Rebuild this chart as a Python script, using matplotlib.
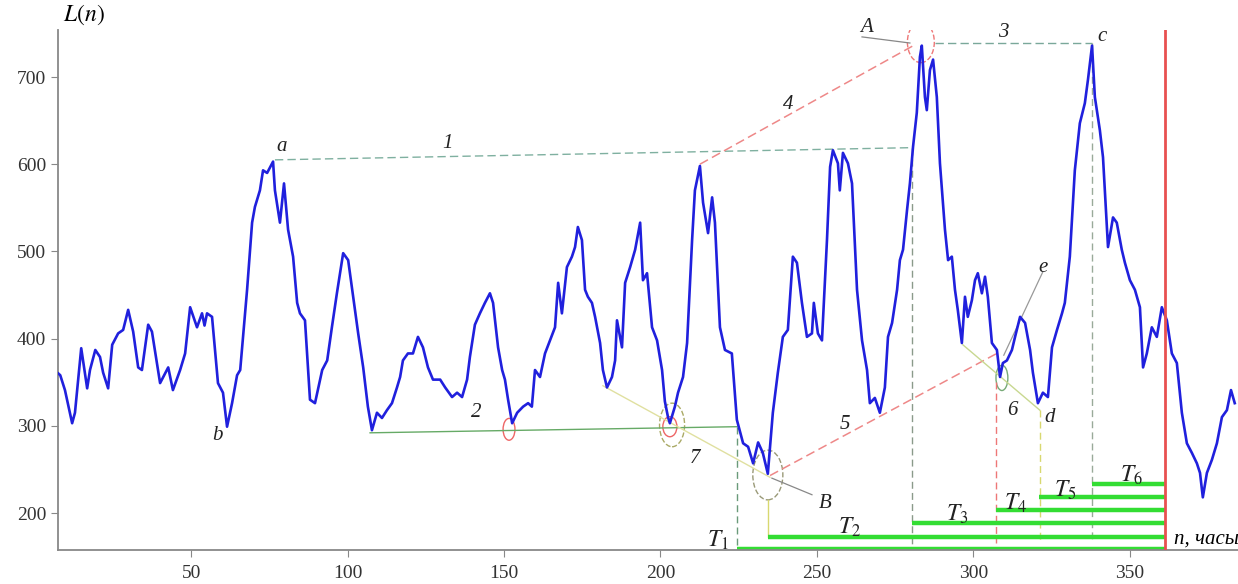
import numpy as np
import matplotlib.pyplot as plt
from matplotlib.patches import Ellipse

plt.rcParams['font.family'] = ['Liberation Serif', 'DejaVu Serif']
plt.rcParams['mathtext.fontset'] = 'stix'

# ряд L(n) (n в часах)
n_vals = [7.6, 8.2, 9.7, 12.0, 12.9, 14.9, 16.8, 17.7, 19.4, 20.9, 21.9, 23.5, 24.8, 26.7,
          28.3, 29.9, 31.5, 33.1, 34.3, 36.3, 37.5, 40.1, 42.7, 44.2, 46.5, 48.1, 49.7,
          51.9, 53.5, 54.3, 55.1, 56.7, 58.6, 60.2, 61.5, 63.1, 64.7, 65.7, 67.9, 69.5,
          70.4, 72.0, 73.0, 74.3, 76.2, 76.8, 78.4, 79.7, 81.0, 82.6, 83.9, 84.8, 86.4,
          88.0, 89.6, 91.9, 93.5, 95.0, 96.6, 98.6, 100.2, 101.8, 103.4, 105.0, 106.5,
          107.8, 109.4, 111.0, 112.6, 114.2, 115.8, 116.8, 117.7, 119.3, 120.9, 122.5,
          124.1, 125.7, 127.3, 129.6, 131.2, 133.4, 135.0, 136.6, 138.2, 139.1, 140.7,
          142.3, 143.9, 145.5, 146.5, 148.1, 149.4, 150.3, 151.3, 152.6, 154.2, 156.1,
          157.7, 158.9, 159.9, 161.5, 163.1, 164.7, 166.3, 167.3, 168.5, 170.1, 171.7,
          172.7, 173.6, 174.9, 175.9, 176.8, 178.1, 179.1, 180.7, 181.6, 182.9, 184.5,
          185.5, 186.1, 187.7, 188.7, 190.3, 191.9, 193.5, 194.4, 195.7, 197.3, 198.9,
          200.5, 201.4, 202.4, 203.0, 204.6, 205.6, 207.2, 208.5, 210.1, 211.0, 212.6,
          213.6, 215.2, 216.5, 217.4, 219.0, 220.6, 222.8, 224.4, 226.4, 228.0, 229.6,
          231.2, 232.7, 234.3, 235.9, 237.5, 239.1, 240.7, 242.3, 243.6, 245.2, 246.8,
          248.4, 249.0, 250.3, 251.6, 253.2, 254.2, 255.1, 256.7, 257.3, 258.3, 259.9,
          261.2, 262.8, 264.4, 266.0, 266.9, 268.5, 270.1, 271.7, 272.7, 274.0, 275.6,
          276.5, 277.5, 278.8, 279.7, 280.7, 281.9, 282.9, 283.5, 284.5, 285.1, 286.1,
          287.1, 288.3, 289.3, 290.9, 291.9, 293.1, 294.1, 295.0, 296.3, 297.3, 298.2,
          299.5, 300.5, 301.4, 302.7, 303.7, 304.6, 305.9, 307.5, 308.5, 309.4, 310.7,
          312.3, 313.3, 314.9, 316.5, 318.1, 319.0, 320.6, 322.2, 323.8, 325.1, 326.7,
          328.3, 329.2, 330.8, 332.4, 334.0, 335.6, 336.6, 337.9, 338.8, 340.4, 341.4,
          342.7, 343.0, 344.6, 345.8, 347.4, 348.4, 350.0, 351.6, 353.2, 354.2, 355.4,
          357.0, 358.6, 360.2, 361.8, 363.4, 365.0, 366.6, 368.2, 369.8, 371.4, 372.4,
          373.3, 374.6, 376.2, 377.8, 379.4, 381.0, 382.3, 383.5]
L_vals = [360, 358, 341, 303, 315, 389, 343, 364, 387, 379, 361, 343, 393, 406,
          410, 433, 408, 367, 364, 416, 408, 349, 367, 341, 364, 383, 436,
          413, 429, 415, 429, 425, 349, 338, 299, 326, 358, 364, 456, 533,
          551, 570, 593, 590, 603, 570, 533, 578, 525, 494, 441, 429, 421,
          330, 326, 364, 375, 413, 452, 498, 490, 448, 406, 367, 322,
          295, 315, 309, 318, 326, 344, 356, 375, 383, 383, 402,
          390, 367, 353, 353, 344, 333, 338, 333, 353, 379, 416,
          429, 441, 452, 441, 390, 364, 353, 330, 303, 315, 322,
          326, 322, 364, 356, 383, 398, 413, 464, 429, 482, 494,
          505, 528, 513, 456, 448, 441, 425, 395, 364, 344, 356,
          375, 421, 390, 464, 482, 502, 533, 467, 475, 413, 398,
          364, 328, 310, 303, 322, 338, 356, 395, 513, 570, 598,
          556, 521, 562, 533, 413, 387, 383, 307, 280, 276, 257,
          281, 269, 245, 315, 361, 402, 410, 494, 487, 441, 402,
          406, 441, 406, 398, 513, 597, 616, 601, 570, 613, 601,
          578, 456, 398, 364, 326, 332, 315, 344, 402, 418, 456,
          490, 502, 548, 578, 620, 659, 723, 736, 677, 662, 708,
          720, 677, 601, 525, 490, 494, 456, 433, 395, 448, 425,
          444, 467, 475, 452, 471, 448, 395, 387, 356, 372, 375,
          387, 402, 425, 418, 387, 361, 326, 338, 333, 390, 410,
          429, 441, 494, 593, 647, 670, 697, 736, 677, 639, 608,
          525, 505, 539, 533, 502, 487, 467, 456, 436, 367, 383,
          413, 402, 436, 421, 383, 372, 315, 280, 269, 257, 246,
          218, 246, 261, 280, 310, 318, 341, 326]

# интервалы T1..T6 (начало, уровень), конец - красная линия
n_now = 361.3
T_start = [224.4, 234.4, 280.5, 307.2, 321.1, 337.9]
T_level = [159, 172.5, 188.5, 203.5, 218, 233]

fig = plt.figure(figsize=(12.38, 5.84), dpi=100)
ax = fig.add_axes([0.0469, 0.0582, 0.953, 0.8904])
ax.set_xlim(7.5, 384.5)
ax.set_ylim(157.6, 753.9)

ax.plot(n_vals, L_vals, color='#2020dd', lw=1.9, zorder=3)

# вспомогательные линии
ax.plot([76.8, 280.3], [605, 619], color='#7fb0a0', lw=1, ls=(0, (6, 3)))
ax.plot([287.7, 337.9], [739, 739], color='#7aa89a', lw=1, ls=(0, (6, 3)))
ax.plot([264.4, 279.7], [746, 739], color='#888888', lw=0.9)
ax.plot([212.6, 281.3], [600, 737], color='#ee8888', lw=1.1, ls=(0, (6, 3)))
ax.plot([235.0, 308.5], [243, 385], color='#ee8888', lw=1.1, ls=(0, (6, 3)))
ax.plot([107.2, 224.4], [292, 299], color='#66aa66', lw=1)
ax.plot([181.6, 235.0], [346, 241], color='#e0e0a0', lw=1)
ax.plot([235.6, 248.4], [240, 221], color='#888888', lw=0.9)
ax.plot([296.6, 321.2], [393, 318], color='#c8d890', lw=1)
ax.plot([322.1, 309.7], [476, 381], color='#999999', lw=0.9)

# вертикали
ax.plot([224.4, 224.4], [299, 157.6], color='#6a9a7a', lw=1, ls=(0, (5, 3)))
ax.plot([234.5, 234.5], [215, 172.5], color='#d8d870', lw=1)
ax.plot([280.3, 280.3], [619, 157.6], color='#8a9a8a', lw=1, ls=(0, (5, 3)))
ax.plot([307.3, 307.3], [350, 165.6], color='#ee7777', lw=1, ls=(0, (5, 3)))
ax.plot([321.2, 321.2], [318, 165.6], color='#d8d870', lw=1, ls=(0, (5, 3)))
ax.plot([337.9, 337.9], [739, 165.6], color='#99aa99', lw=1, ls=(0, (5, 3)))
ax.plot([n_now, n_now], [753.9, 157.6], color='#e85050', lw=2, zorder=4)

for s, lev in zip(T_start, T_level):
    ax.plot([s, n_now], [lev, lev], color='#33dd33', lw=3.2, solid_capstyle='butt', zorder=2)

# эллипсы
ax.add_patch(Ellipse((283.2, 740), 8.6, 47, fill=False, ec='#ee7777', lw=1, ls='--'))
ax.add_patch(Ellipse((151.6, 296), 3.8, 25, fill=False, ec='#ee6666', lw=1))
ax.add_patch(Ellipse((203.0, 299), 4.5, 23, fill=False, ec='#ee6666', lw=1))
ax.add_patch(Ellipse((203.7, 301), 8.0, 50, fill=False, ec='#aaaa66', lw=1, ls='--'))
ax.add_patch(Ellipse((234.3, 243.6), 9.6, 57, fill=False, ec='#999977', lw=1, ls='--'))
ax.add_patch(Ellipse((309.1, 355), 3.8, 29, fill=False, ec='#77aa77', lw=1))

# подписи
lab = dict(fontsize=15, style='italic', color='#222222', ha='center', va='center')
for x, y, t in [(78.8, 620, 'a'), (58.3, 289, 'b'), (341.0, 746, 'c'), (324.4, 309, 'd'),
                (322.2, 481, 'e'), (265.7, 757, 'A'), (252.6, 211, 'B'),
                (131.8, 624, '1'), (141.0, 315, '2'), (309.4, 751, '3'), (240.7, 668, '4'),
                (258.9, 301, '5'), (312.6, 318, '6'), (211.0, 263, '7')]:
    ax.text(x, y, t, clip_on=False, **lab)

T_lab_x = [218.4, 260.5, 294.7, 313.3, 329.2, 350.6]
T_lab_y = [169, 184, 198, 211, 226, 243]
for i in range(6):
    ax.text(T_lab_x[i], T_lab_y[i], r'$T_{%d}$' % (i + 1), fontsize=17, ha='center',
            va='center', color='#222222')

ax.text(9.0, 771, r'$L(n)$', fontsize=17, ha='left', va='center', clip_on=False)
ax.text(374.5, 170, 'n, часы', fontsize=15, style='italic', ha='center', va='center')

for sp in ['top', 'right']:
    ax.spines[sp].set_visible(False)
for sp in ['left', 'bottom']:
    ax.spines[sp].set_color('#888888')
    ax.spines[sp].set_linewidth(1.3)
ax.set_xticks([50, 100, 150, 200, 250, 300, 350])
ax.set_yticks([200, 300, 400, 500, 600, 700])
ax.tick_params(colors='#888888', labelcolor='#333333', labelsize=14, length=5)
ax.tick_params(axis='x', pad=6)

fig.savefig('out.png', dpi=100)
